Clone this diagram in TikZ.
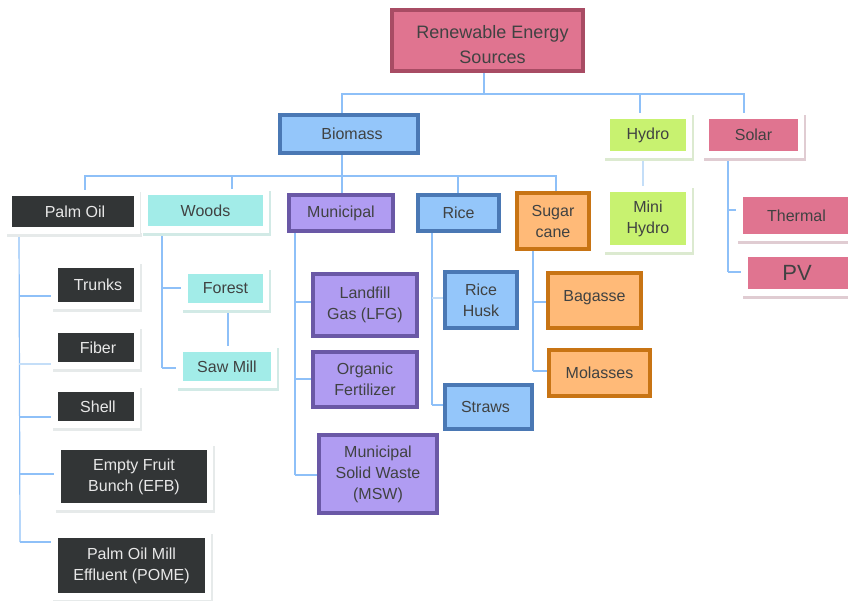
\documentclass[tikz,border=0pt]{standalone}
\usepackage{fontspec}
\setmainfont{Liberation Sans}
\usetikzlibrary{backgrounds,calc}
\definecolor{pinkF}{HTML}{E07490}
\definecolor{pinkB}{HTML}{A84C64}
\definecolor{blueF}{HTML}{94C6FA}
\definecolor{blueB}{HTML}{4A78B4}
\definecolor{purF}{HTML}{B09CF2}
\definecolor{purB}{HTML}{6A58A6}
\definecolor{oraF}{HTML}{FFBA78}
\definecolor{oraB}{HTML}{C87414}
\definecolor{darkF}{HTML}{323536}
\definecolor{cyanF}{HTML}{A2ECE8}
\definecolor{greenF}{HTML}{C8F270}
\definecolor{txt}{HTML}{404242}
\definecolor{ltxt}{HTML}{E8E8E8}
\definecolor{conC}{HTML}{8EC0F8}
\definecolor{conP}{HTML}{C4DEF8}
\definecolor{shGray}{HTML}{E6EAEA}
\definecolor{shCyan}{HTML}{D2EAE6}
\definecolor{shGreen}{HTML}{DCEAD0}
\definecolor{shPink}{HTML}{E0CCD2}
\tikzset{
  conn/.style={draw=conC, line width=1.2pt},
  connpale/.style={draw=conP, line width=1.2pt},
  boxbase/.style={rectangle, inner sep=0pt, align=center, font=\fontsize{16}{21}\selectfont, text=txt},
  thickbox/.style={boxbase, line width=4pt},
  flatbox/.style={boxbase},
  darktext/.style={text=ltxt},
  titletext/.style={font=\fontsize{18}{25}\selectfont},
}
% name x1 y1 x2 y2 colourprefix options text
\newcommand\tbx[8]{%
  \node[thickbox, fill=#6F, draw=#6B, minimum width={#4-#2-4}, minimum height={#5-#3-4}, #7] (#1) at ({(#2+#4)/2},{(#3+#5)/2}) {#8};}
% name x1 y1 x2 y2 fill shadow options text
\newcommand\fbx[9]{%
  \fill[#7] ({#2-5},{#3-4}) rectangle ({#4+8},{#5+10});
  \fill[white] ({#2-7},{#3-6}) rectangle ({#4+6},{#5+7});
  \node[flatbox, fill=#6, minimum width={#4-#2}, minimum height={#5-#3}, #8] (#1) at ({(#2+#4)/2},{(#3+#5)/2}) {#9};}
\begin{document}
\begin{tikzpicture}[x=1pt,y=-1pt]
\useasboundingbox (0,0) rectangle (848,600);
% level 0/1
\tbx{res}{390}{8}{585}{73}{pink}{titletext}{\hspace*{10pt}\rule{0pt}{21.5pt}Renewable Energy\\\hspace*{10pt}Sources}
\tbx{bio}{278}{113}{420}{155}{blue}{}{\hspace*{6pt}Biomass}
\fbx{hyd}{610}{119}{686}{151}{greenF}{shGreen}{}{Hydro}
\fbx{sol}{709}{119}{798}{151}{pinkF}{shPink}{}{Solar}
\fbx{mh}{610}{192}{686}{245}{greenF}{shGreen}{}{Mini\\Hydro}
\fbx{the}{743}{197}{850}{234}{pinkF}{shPink}{}{Thermal}
\fbx{pv}{748}{257}{850}{289}{pinkF}{shPink}{font=\fontsize{22}{26}\selectfont}{\hspace*{-4pt}PV}
% level 2
\fbx{palm}{12}{196}{134}{227}{darkF}{shGray}{darktext}{\hspace*{4pt}Palm Oil}
\fbx{woods}{148}{195}{263}{226}{cyanF}{shCyan}{}{Woods}
\tbx{mun}{287}{193}{395}{233}{pur}{}{Municipal}
\tbx{rice}{416}{193}{501}{233}{blue}{}{Rice}
\tbx{sug}{515}{191}{591}{251}{ora}{}{Sugar\\cane}
% palm oil children
\fbx{tru}{58}{268}{134}{302}{darkF}{shGray}{darktext}{\hspace*{4pt}Trunks}
\fbx{fib}{58}{333}{134}{362}{darkF}{shGray}{darktext}{\hspace*{4pt}Fiber}
\fbx{she}{58}{392}{134}{421}{darkF}{shGray}{darktext}{\hspace*{4pt}Shell}
\fbx{efb}{61}{450}{207}{503}{darkF}{shGray}{darktext}{Empty Fruit\\Bunch (EFB)}
\fbx{pome}{58}{538}{205}{593}{darkF}{shGray}{darktext}{Palm Oil Mill\\Effluent (POME)}
% woods children
\fbx{for}{188}{274}{263}{303}{cyanF}{shCyan}{}{Forest}
\fbx{saw}{183}{352}{271}{381}{cyanF}{shCyan}{}{Saw Mill}
% municipal children
\tbx{lfg}{311}{272}{419}{338}{pur}{}{Landfill\\Gas (LFG)}
\tbx{org}{311}{350}{419}{409}{pur}{}{Organic\\Fertilizer}
\tbx{msw}{317}{433}{439}{515}{pur}{}{Municipal\\Solid Waste\\(MSW)}
% rice children
\tbx{rh}{443}{270}{519}{330}{blue}{}{Rice\\Husk}
\tbx{str}{443}{383}{534}{431}{blue}{}{\hspace*{-6pt}Straws}
% sugar cane children
\tbx{bag}{546}{271}{643}{330}{ora}{}{\raisebox{10pt}{Bagasse}}
\tbx{mol}{547}{348}{652}{398}{ora}{}{Molasses}

\begin{pgfonlayer}{background}
  \coordinate (j1) at (484,94);
  \coordinate (j2) at (342,176);
  \draw[conn] (res.south -| j1) -- (j1);
  \draw[conn] (bio.north -| j2) |- (j1) -| (sol.north -| 744,0);
  \draw[conn] (hyd.north -| 640,0) -- (640,94);
  \draw[connpale] (hyd.south -| 643,0) -- (mh.north -| 643,0);
  \draw[conn] (bio.south -| j2) -- (j2);
  \draw[conn] (palm.north -| 85,0) |- (j2) -| (sug.north -| 556,0);
  \draw[conn] (woods.north -| 232,0) -- (232,176);
  \draw[conn] (mun.north -| j2) -- (j2);
  \draw[conn] (rice.north -| 458,0) -- (458,176);
  % palm oil
  \draw[conn] (palm.south -| 19,0) -- (20,542);
  \draw[conn] (19,296) -- (tru.west |- 0,296);
  \draw[connpale] (19,364) -- (fib.west |- 0,364);
  \draw[conn] (19,417) -- (she.west |- 0,417);
  \draw[conn] (20,474) -- (efb.west |- 0,474);
  \draw[conn] (20,542) -- (pome.west |- 0,542);
  % woods
  \draw[conn] (woods.south -| 162,0) -- (162,368);
  \draw[conn] (162,288) -- (for.west |- 0,288);
  \draw[conn] (162,368) -- (saw.west |- 0,368);
  \draw[conn] (for.south -| 228,0) -- (saw.north -| 228,0);
  % municipal
  \draw[conn] (mun.south -| 295,0) -- (295,475);
  \draw[conn] (295,302) -- (lfg.west |- 0,302);
  \draw[conn] (295,379) -- (org.west |- 0,379);
  \draw[conn] (295,475) -- (msw.west |- 0,475);
  % rice
  \draw[conn] (rice.south -| 432,0) -- (432,405);
  \draw[connpale] (432,298) -- (rh.west |- 0,298);
  \draw[conn] (432,405) -- (str.west |- 0,405);
  % sugar cane
  \draw[conn] (sug.south -| 533,0) -- (533,371);
  \draw[conn] (533,302) -- (bag.west |- 0,302);
  \draw[conn] (533,371) -- (mol.west |- 0,371);
  % solar
  \draw[conn] (sol.south -| 728,0) -- (728,272);
  \draw[conn] (728,210) -- (the.west |- 0,210);
  \draw[conn] (728,272) -- (pv.west |- 0,272);
\end{pgfonlayer}
\end{tikzpicture}
\end{document}
